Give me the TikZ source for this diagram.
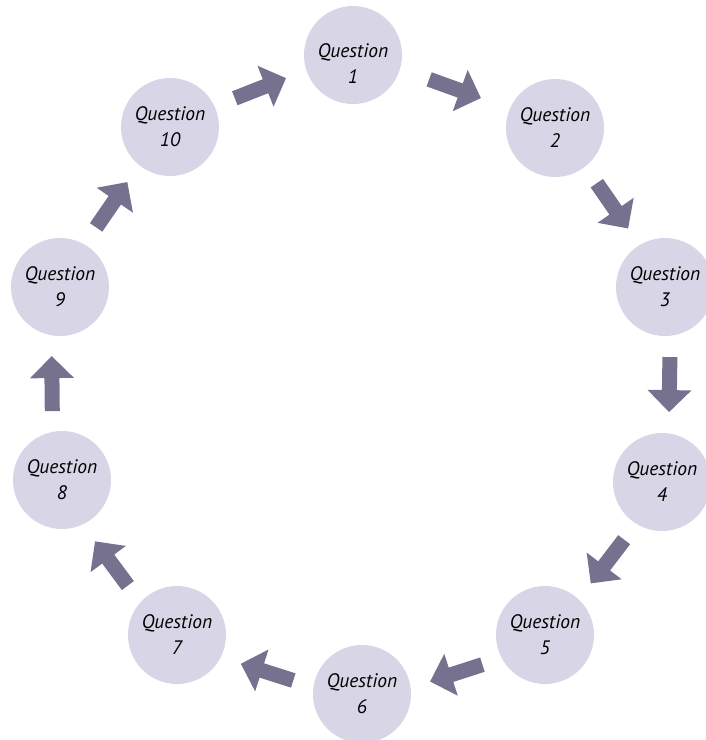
\documentclass[tikz,border=0pt]{standalone}
\usepackage{fontspec}
\setmainfont{PT Sans}
\usetikzlibrary{calc}
\definecolor{qfill}{HTML}{D8D5E7}
\definecolor{arrowc}{HTML}{76718F}
\tikzset{
  qnode/.style={circle, fill=qfill, draw=none, minimum size=98pt, inner sep=0pt,
    align=center, font=\fontsize{19.5}{26}\selectfont\itshape, text=black},
}
\newcommand\qarrow[3]{%
  \fill[arrowc] let \p1=($(#2)-(#1)$), \n1={atan2(\y1,\x1)} in
    [shift={($(#1)!0.5!(#2)!#3!90:(#2)$)}, rotate=\n1]
    (-27.5,-7.5) -- (5.5,-7.5) -- (5.5,-22) -- (27.5,0) -- (5.5,22) -- (5.5,7.5) -- (-27.5,7.5) -- cycle;
}
\begin{document}
\begin{tikzpicture}[x=1pt,y=-1pt]
\useasboundingbox (0,0) rectangle (706,740);
\clip (0,0) rectangle (706,740);
\node[qnode] (q1) at (353,55) {\rule{0pt}{30pt}Question\\1};
\node[qnode] (q2) at (555,128) {Question\\2};
\node[qnode] (q3) at (665,287) {Question\\3};
\node[qnode] (q4) at (662,482) {Question\\4};
\node[qnode] (q5) at (545,635) {Question\\5};
\node[qnode] (q6) at (362,694) {Question\\6};
\node[qnode] (q7) at (177,635) {Question\\7};
\node[qnode] (q8) at (62,480) {Question\\8};
\node[qnode] (q9) at (60,287) {Question\\9};
\node[qnode] (q10) at (170,127) {Question\\10};
\qarrow{q1}{q2}{3pt}
\qarrow{q2}{q3}{3pt}
\qarrow{q3}{q4}{6pt}
\qarrow{q4}{q5}{5pt}
\qarrow{q5}{q6}{9pt}
\qarrow{q6}{q7}{8pt}
\qarrow{q7}{q8}{10pt}
\qarrow{q8}{q9}{9pt}
\qarrow{q9}{q10}{4pt}
\qarrow{q10}{q1}{3pt}
\end{tikzpicture}
\end{document}
